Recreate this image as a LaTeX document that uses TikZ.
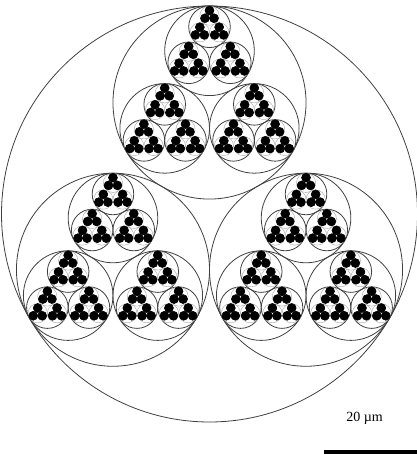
\documentclass[tikz,border=0pt]{standalone}
\usepackage{fontspec}
\setmainfont{Liberation Serif}
\usepackage{tikz}
\tikzstyle{none}=[inner sep=0pt]
\tikzstyle{ring}=[draw=black!75, line width=0.8pt]
\tikzstyle{thinring}=[draw=black!35, line width=0.4pt]
\tikzstyle{cell}=[fill=black, draw=black, line width=0.6pt]
\tikzstyle{bar}=[draw=black, line width=4pt]

\newcommand{\packratio}{0.4641016}
\newcommand{\packshift}{0.5358984}
% one circle of radius 1 with three circles packed in it
\newcommand{\packlevel}[1]{%
	\ifnum#1=5
		\filldraw [style=cell] (0,0) circle (1);
	\else
		\ifnum#1=4 \draw [style=thinring] (0,0) circle (1);
		\else \draw [style=ring] (0,0) circle (1); \fi
		\foreach \ang in {90,210,330} {
			\begin{scope}[shift={(\ang:\packshift)}, scale=\packratio]
				\packlevel{\the\numexpr#1+1\relax}
			\end{scope}
		}
	\fi}

\begin{document}
\begin{tikzpicture}[x=1pt, y=1pt]
				\useasboundingbox (0, 0) rectangle (417, 455);
				\begin{scope}[shift={(209.5, 241)}, scale=208]
					\packlevel{0}
				\end{scope}
				\node [style=none] (0) at (364.5, 37) {\fontsize{14}{16}\selectfont 20 µm};
				\coordinate (1) at (324, 3);
				\coordinate (2) at (417, 3);
				\draw [style=bar] (1) to (2);
\end{tikzpicture}
\end{document}
